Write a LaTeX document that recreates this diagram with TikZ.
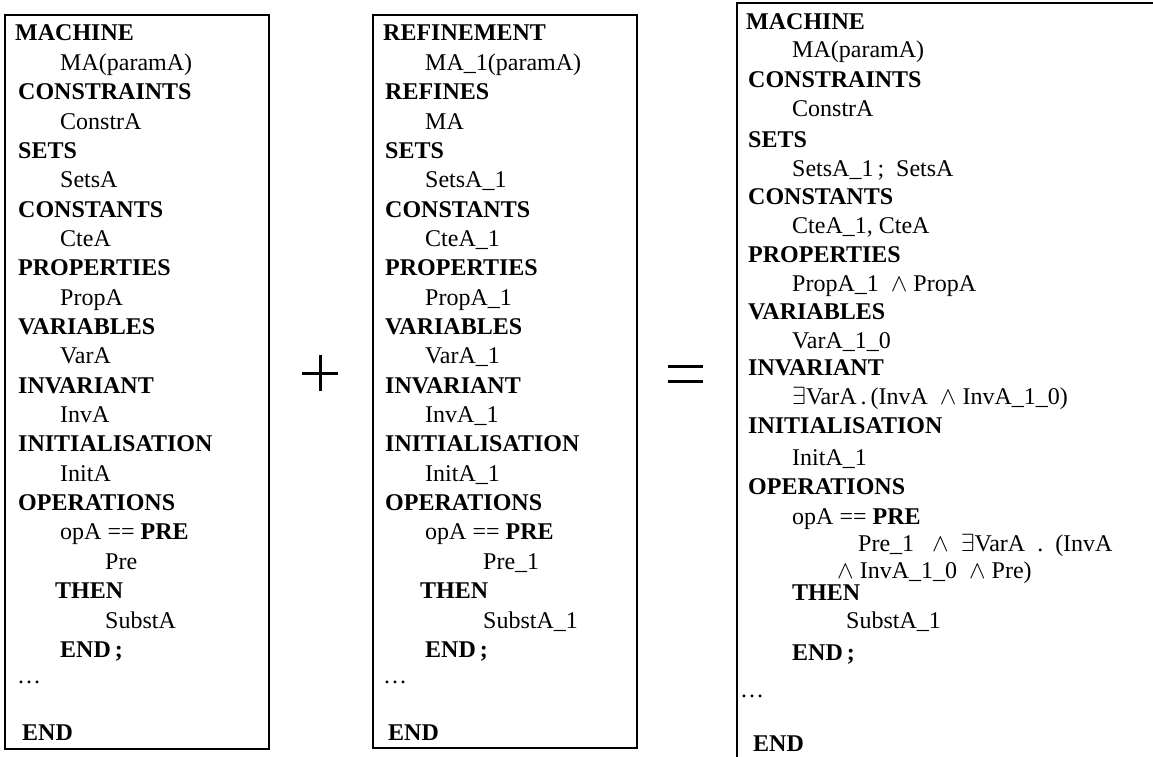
\documentclass[tikz,border=0pt]{standalone}
\usepackage{fontspec}
\setmainfont{Liberation Serif}
\begin{document}
\begin{tikzpicture}[x=1pt,y=-1pt,
  txt/.style={anchor=base west, inner sep=0pt, font=\fontsize{24}{29}\selectfont},
  kw/.style={anchor=base west, inner sep=0pt, font=\fontsize{24}{29}\selectfont\bfseries},
  frame/.style={line width=1.4pt},
  sym/.style={line width=3pt}]
\useasboundingbox (0,0) rectangle (1153,757);
% ---------- box 1 ----------
\draw[frame] (5,15) rectangle (269,749);
\node[kw]  (a0)  at (15,41)     {MACHINE};
\node[txt] (a1)  at (60,70.35)  {MA(paramA)};
\node[kw]  (a2)  at (18,99.7)   {CONSTRAINTS};
\node[txt] (a3)  at (60,129.05) {ConstrA};
\node[kw]  (a4)  at (18,158.4)  {SETS};
\node[txt] (a5)  at (60,187.75) {SetsA};
\node[kw]  (a6)  at (18,217.1)  {CONSTANTS};
\node[txt] (a7)  at (60,246.45) {CteA};
\node[kw]  (a8)  at (18,275.8)  {PROPERTIES};
\node[txt] (a9)  at (60,305.15) {PropA};
\node[kw]  (a10) at (18,334.5)  {VARIABLES};
\node[txt] (a11) at (60,363.85) {VarA};
\node[kw]  (a12) at (18,393.2)  {INVARIANT};
\node[txt] (a13) at (60,422.55) {InvA};
\node[kw]  (a14) at (18,451.9)  {INITIALISATION};
\node[txt] (a15) at (60,481.25) {InitA};
\node[kw]  (a16) at (18,510.6)  {OPERATIONS};
\node[txt] (a17) at (60,539.95) {opA == \textbf{PRE}};
\node[txt] (a18) at (105,569.3) {Pre};
\node[kw]  (a19) at (55,598.65) {THEN};
\node[txt] (a20) at (105,628)   {SubstA};
\node[kw]  (a21) at (60,657.35) {END\,;};
\node[txt] (a22) at (17,683)    {\dots};
\node[kw]  (a23) at (22,740)    {END};
% ---------- plus ----------
\draw[sym] (302,373) -- (338,373);
\draw[sym] (320,355) -- (320,391);
% ---------- box 2 ----------
\draw[frame] (373,15) rectangle (637,748);
\node[kw]  (b0)  at (383,41)     {REFINEMENT};
\node[txt] (b1)  at (425,70.35)  {MA\_1(paramA)};
\node[kw]  (b2)  at (385,99.7)   {REFINES};
\node[txt] (b3)  at (425,129.05) {MA};
\node[kw]  (b4)  at (385,158.4)  {SETS};
\node[txt] (b5)  at (425,187.75) {SetsA\_1};
\node[kw]  (b6)  at (385,217.1)  {CONSTANTS};
\node[txt] (b7)  at (425,246.45) {CteA\_1};
\node[kw]  (b8)  at (385,275.8)  {PROPERTIES};
\node[txt] (b9)  at (425,305.15) {PropA\_1};
\node[kw]  (b10) at (385,334.5)  {VARIABLES};
\node[txt] (b11) at (425,363.85) {VarA\_1};
\node[kw]  (b12) at (385,393.2)  {INVARIANT};
\node[txt] (b13) at (425,422.55) {InvA\_1};
\node[kw]  (b14) at (385,451.9)  {INITIALISATION};
\node[txt] (b15) at (425,481.25) {InitA\_1};
\node[kw]  (b16) at (385,510.6)  {OPERATIONS};
\node[txt] (b17) at (425,539.95) {opA == \textbf{PRE}};
\node[txt] (b18) at (483,569.3)  {Pre\_1};
\node[kw]  (b19) at (420,598.65) {THEN};
\node[txt] (b20) at (483,628)    {SubstA\_1};
\node[kw]  (b21) at (425,657.35) {END\,;};
\node[txt] (b22) at (383,683)    {\dots};
\node[kw]  (b23) at (388,740)    {END};
% ---------- equals ----------
\draw[sym] (668,366) -- (703,366);
\draw[sym] (668,381) -- (703,381);
% ---------- box 3 ----------
\draw[frame] (1153,3) -- (737,3) -- (737,757);
\node[kw]  (c0)  at (746,30)  {MACHINE};
\node[txt] (c1)  at (792,58)  {MA(paramA)};
\node[kw]  (c2)  at (748,88)  {CONSTRAINTS};
\node[txt] (c3)  at (792,117) {ConstrA};
\node[kw]  (c4)  at (748,147) {SETS};
\node[txt] (c5)  at (792,176) {SetsA\_1\,;\ \ SetsA};
\node[kw]  (c6)  at (748,204) {CONSTANTS};
\node[txt] (c7)  at (792,233) {CteA\_1, CteA};
\node[kw]  (c8)  at (748,262) {PROPERTIES};
\node[txt] (c9)  at (792,291) {PropA\_1\ \ $\wedge$ PropA};
\node[kw]  (c10) at (748,319) {VARIABLES};
\node[txt] (c11) at (792,348) {VarA\_1\_0};
\node[kw]  (c12) at (748,375) {INVARIANT};
\node[txt] (c13) at (792,404) {$\exists$VarA\,.\,(InvA\ \ $\wedge$ InvA\_1\_0)};
\node[kw]  (c14) at (748,433) {INITIALISATION};
\node[txt] (c15) at (792,465) {InitA\_1};
\node[kw]  (c16) at (748,494) {OPERATIONS};
\node[txt] (c17) at (792,524) {opA == \textbf{PRE}};
\node[txt, font=\fontsize{24}{27}\selectfont] (c18) at (837,551)
  {\begin{tabular}[t]{@{}l@{}}\hspace*{21pt}Pre\_1\ \ \ $\wedge$\ \ $\exists$VarA\ \ .\ \ (InvA\\
   $\wedge$ InvA\_1\_0\ \ $\wedge$ Pre)\end{tabular}};
\node[kw]  (c20) at (792,600) {THEN};
\node[txt] (c21) at (846,628) {SubstA\_1};
\node[kw]  (c22) at (792,660) {END\,;};
\node[txt] (c23) at (740,697) {\dots};
\node[kw]  (c24) at (753,751) {END};
\end{tikzpicture}
\end{document}
